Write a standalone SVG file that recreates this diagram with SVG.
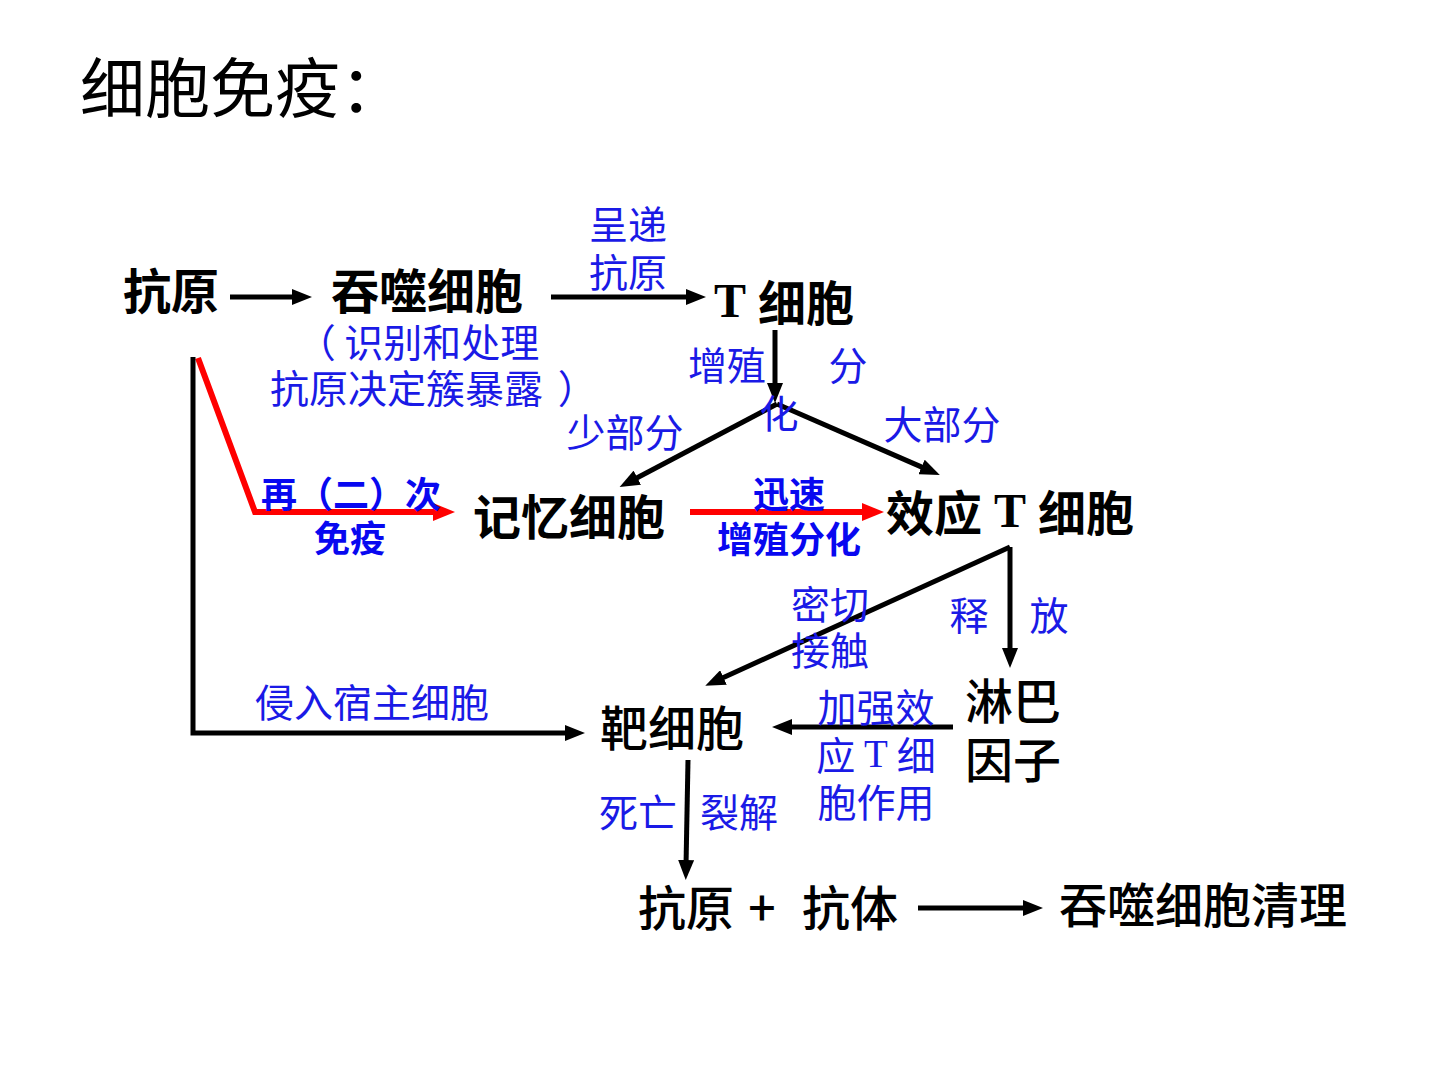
<svg xmlns="http://www.w3.org/2000/svg" width="1440" height="1080" viewBox="0 0 1440 1080">
<style>
text{font-family:"Noto Sans CJK SC","Noto Sans",sans-serif;dominant-baseline:central}
.title{font-size:65px;fill:#000}
.nb{font-size:48px;font-weight:700;fill:#000}
.nr{font-size:48px;font-weight:500;fill:#000}
.lb{font-size:39px;fill:#1a1ae6}
.bb{font-size:36px;font-weight:700;fill:#0808f0}
.tr{font-family:"Liberation Serif",serif;font-weight:700}
.trn{font-family:"Liberation Serif",serif}
.k{stroke:#000;stroke-width:5;fill:none}
.r{stroke:#ff0000;stroke-width:6;fill:none}
</style>
<defs>
<marker id="ak" markerUnits="userSpaceOnUse" markerWidth="20" markerHeight="16" refX="6" refY="8" orient="auto"><path d="M0,0 L20,8 L0,16 z" fill="#000"/></marker>
<marker id="ar" markerUnits="userSpaceOnUse" markerWidth="22" markerHeight="18" refX="6" refY="9" orient="auto"><path d="M0,0 L22,9 L0,18 z" fill="#ff0000"/></marker>
</defs>
<rect width="1440" height="1080" fill="#fff"/>
<text class="title" x="80" y="84">细胞免疫：</text>

<g id="connectors">
<line class="k" x1="230" y1="297" x2="298" y2="297" marker-end="url(#ak)"/>
<line class="k" x1="551" y1="297" x2="692" y2="297" marker-end="url(#ak)"/>
<line class="k" x1="775" y1="330" x2="775" y2="389" marker-end="url(#ak)"/>
<line class="k" x1="777" y1="404" x2="632" y2="480.5" marker-end="url(#ak)"/>
<line class="k" x1="777" y1="404" x2="927" y2="469.4" marker-end="url(#ak)"/>
<polyline class="r" points="198,358 255,512 439,512" marker-end="url(#ar)"/>
<line class="r" x1="690" y1="512" x2="868" y2="512" marker-end="url(#ar)"/>
<polyline class="k" points="193,357 193,733 571,733" marker-end="url(#ak)"/>
<line class="k" x1="1010" y1="547" x2="718" y2="680" marker-end="url(#ak)"/>
<line class="k" x1="1010" y1="547" x2="1010" y2="654" marker-end="url(#ak)"/>
<line class="k" x1="953" y1="727" x2="786" y2="727" marker-end="url(#ak)"/>
<line class="k" x1="688" y1="760" x2="686" y2="866" marker-end="url(#ak)"/>
<line class="k" x1="918" y1="908" x2="1029" y2="908" marker-end="url(#ak)"/>
</g>

<g id="antigen"><text class="nb" x="171" y="288" text-anchor="middle">抗原</text></g>
<g id="phagocyte"><text class="nb" x="427" y="288" text-anchor="middle">吞噬细胞</text>
<text class="lb" x="418" y="340" text-anchor="middle">（ 识别和处理</text>
<text class="lb" x="270" y="386">抗原决定簇暴露 <tspan dx="6">）</tspan></text></g>
<g id="present-label"><text class="lb" x="628" y="222" text-anchor="middle">呈递</text><text class="lb" x="628" y="270" text-anchor="middle">抗原</text></g>
<g id="t-cell"><text class="nb" x="714" y="300"><tspan class="tr">T</tspan><tspan dx="12">细胞</tspan></text></g>
<g id="prolif-label"><text class="lb" x="727" y="363" text-anchor="middle">增殖</text><text class="lb" x="848" y="363" text-anchor="middle">分</text><text class="lb" x="779" y="411" text-anchor="middle">化</text></g>
<g id="small-part"><text class="lb" x="625" y="430" text-anchor="middle">少部分</text></g>
<g id="large-part"><text class="lb" x="942" y="422" text-anchor="middle">大部分</text></g>
<g id="secondary-label"><text class="bb" x="351" y="492" text-anchor="middle">再（二）次</text><text class="bb" x="350" y="536" text-anchor="middle">免疫</text></g>
<g id="memory-cell"><text class="nb" x="569" y="514" text-anchor="middle">记忆细胞</text></g>
<g id="rapid-label"><text class="bb" x="789" y="492" text-anchor="middle">迅速</text><text class="bb" x="789" y="537" text-anchor="middle">增殖分化</text></g>
<g id="effector-t"><text class="nb" x="886" y="510">效应<tspan class="tr" dx="12">T</tspan><tspan dx="12">细胞</tspan></text></g>
<g id="contact-label"><text class="lb" x="830" y="602" text-anchor="middle">密切</text><text class="lb" x="830" y="648" text-anchor="middle">接触</text></g>
<g id="release-label"><text class="lb" x="969" y="613" text-anchor="middle">释</text><text class="lb" x="1049" y="613" text-anchor="middle">放</text></g>
<g id="invade-label"><text class="lb" x="372" y="700" text-anchor="middle">侵入宿主细胞</text></g>
<g id="target-cell"><text class="nr" x="672" y="725" text-anchor="middle">靶细胞</text></g>
<g id="lymphokine"><text class="nr" x="1013" y="698" text-anchor="middle">淋巴</text><text class="nr" x="1013" y="757" text-anchor="middle">因子</text></g>
<g id="enhance-label"><text class="lb" x="876" y="705" text-anchor="middle">加强效</text><text class="lb" x="876" y="753" text-anchor="middle">应 <tspan class="trn">T</tspan> 细</text><text class="lb" x="876" y="800" text-anchor="middle">胞作用</text></g>
<g id="death-label"><text class="lb" x="638" y="810" text-anchor="middle">死亡</text><text class="lb" x="739" y="810" text-anchor="middle">裂解</text></g>
<g id="antigen-antibody"><text class="nr" x="686" y="905" text-anchor="middle">抗原</text><text class="nr" x="762" y="905" text-anchor="middle" font-weight="700">+</text><text class="nr" x="850" y="905" text-anchor="middle">抗体</text></g>
<g id="clearance"><text class="nr" x="1203" y="902" text-anchor="middle">吞噬细胞清理</text></g>
</svg>
